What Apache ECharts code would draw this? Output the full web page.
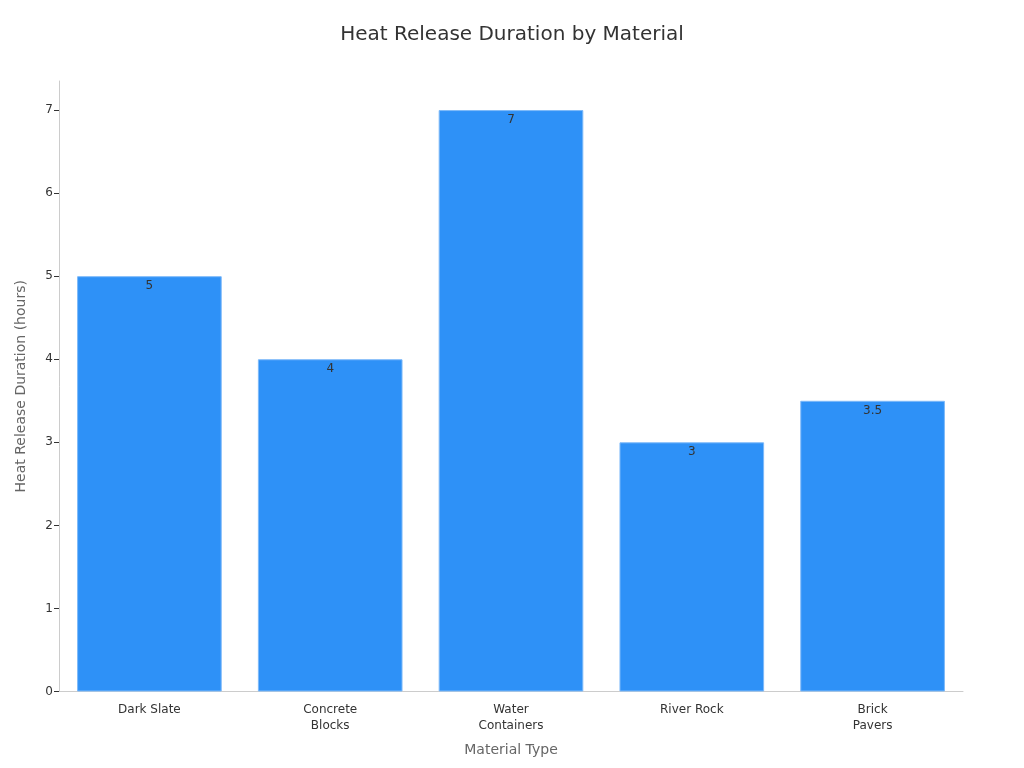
<!DOCTYPE html>
<html>
<head>
<meta charset="utf-8">
<script src="https://cdn.jsdelivr.net/npm/echarts@6/dist/echarts.min.js"></script>
<style>
  html, body { margin: 0; padding: 0; background: #fff; }
  #chart { width: 1024px; height: 768px; }
</style>
</head>
<body>
<div id="chart"></div>
<script>
// 材料类别和放热时长
var materials = ['Dark Slate', 'Concrete\nBlocks', 'Water\nContainers', 'River Rock', 'Brick\nPavers'];
var hours = [5, 4, 7, 3, 3.5];
var yTicks = { min: 0, max: 7.35, interval: 1 };

var chart = echarts.init(document.getElementById('chart'));

var option = {
    backgroundColor: '#fff',
    textStyle: { fontFamily: 'DejaVu Sans' },
    title: {
        text: 'Heat Release Duration by Material',
        left: 'center',
        top: 20,
        textStyle: { fontSize: 20, fontWeight: 'normal', color: '#333' }
    },
    grid: { left: 59, right: 61, top: 81, bottom: 76.5, outerBoundsMode: 'none' },
    xAxis: {
        type: 'category',
        data: materials,
        name: 'Material Type',
        nameLocation: 'middle',
        nameGap: 52,
        nameTextStyle: { fontSize: 14, color: '#666' },
        axisLine: { lineStyle: { color: '#ccc' } },
        axisTick: { alignWithLabel: true, lineStyle: { color: '#333' } },
        axisLabel: { color: '#333', fontSize: 12, margin: 10, lineHeight: 16 }
    },
    yAxis: {
        type: 'value',
        min: yTicks.min,
        max: yTicks.max,
        interval: yTicks.interval,
        name: 'Heat Release Duration (hours)',
        nameLocation: 'middle',
        nameGap: 31,
        nameTextStyle: { fontSize: 14, color: '#666' },
        axisLine: { show: true, lineStyle: { color: '#ccc' } },
        axisTick: { show: true, lineStyle: { color: '#333' } },
        axisLabel: { color: '#333', fontSize: 12, margin: 6, showMaxLabel: false },
        splitLine: { show: false }
    },
    series: [{
        type: 'bar',
        data: hours,
        barCategoryGap: '20%',
        itemStyle: {
            color: '#2E91F7',
            borderColor: '#7DB9F9',
            borderWidth: 1
        },
        label: {
            show: true,
            position: 'insideTop',
            distance: 4,
            color: '#333',
            fontSize: 12
        }
    }]
};

chart.setOption(option);
</script>
</body>
</html>
